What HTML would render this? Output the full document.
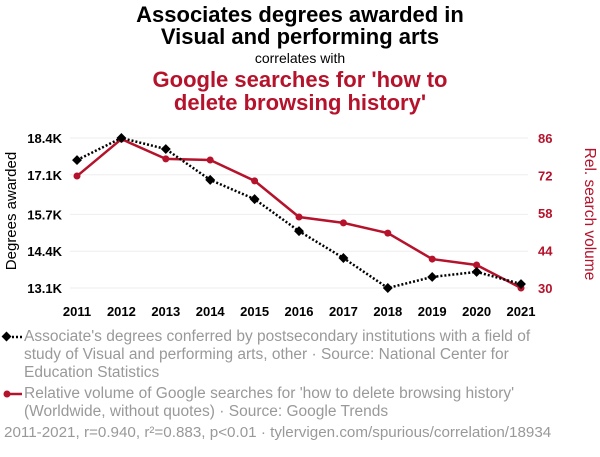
<!DOCTYPE html>
<html><head><meta charset="utf-8"><style>
body{margin:0;background:#fff;width:600px;height:452px;overflow:hidden;font-family:"Liberation Sans",sans-serif}
</style></head><body>
<svg width="600" height="452" font-family="Liberation Sans, sans-serif">
<g text-anchor="middle" font-weight="bold">
<text x="300" y="22" font-size="22">Associates degrees awarded in</text>
<text x="300" y="44" font-size="22">Visual and performing arts</text>
<text x="300" y="63" font-size="14" font-weight="normal">correlates with</text>
<text x="300" y="87" font-size="22" fill="#b5122b">Google searches for 'how to</text>
<text x="300" y="110" font-size="22" fill="#b5122b">delete browsing history'</text>
</g>
<g id="grid"></g><g id="axes"></g><g id="marks"></g>
<text transform="translate(16,211) rotate(-90)" text-anchor="middle" font-size="15">Degrees awarded</text>
<text transform="translate(585,214) rotate(90)" text-anchor="middle" font-size="15.5" fill="#b5122b">Rel. search volume</text>
<g>
<line x1="4" y1="337" x2="22" y2="337" stroke="#000" stroke-width="2.5" stroke-dasharray="2,2"/>
<rect x="3" y="333" width="7" height="7" transform="rotate(45 6.5 336.5)" fill="#000"/>
<text font-size="15.5" fill="#999"><tspan x="24" y="341">Associate's degrees conferred by postsecondary institutions with a field of</tspan><tspan x="24" y="359">study of Visual and performing arts, other · Source: National Center for</tspan><tspan x="24" y="377">Education Statistics</tspan></text>
</g>
<g>
<line x1="4" y1="394" x2="22" y2="394" stroke="#b5122b" stroke-width="2.5"/>
<circle cx="7" cy="394" r="3.5" fill="#b5122b"/>
<text font-size="15.5" fill="#999"><tspan x="24" y="398">Relative volume of Google searches for 'how to delete browsing history'</tspan><tspan x="24" y="416">(Worldwide, without quotes) · Source: Google Trends</tspan></text>
</g>
<text x="4" y="437" font-size="15.2" fill="#999">2011-2021, r=0.940, r²=0.883, p&lt;0.01 · tylervigen.com/spurious/correlation/18934</text>
</svg>
<script>
const years=[2011,2012,2013,2014,2015,2016,2017,2018,2019,2020,2021];
const degrees=[17.62,18.4,18.01,16.92,16.24,15.11,14.16,13.1,13.49,13.67,13.24];
const searches=[71.8,85.6,78.2,77.8,70,56.5,54.3,50.5,40.8,38.6,30];
const leftTicks=[13.1,14.4,15.7,17.1,18.4];
const rightTicks=[30,44,58,72,86];
const NS='http://www.w3.org/2000/svg';
const x=y=>77+(y-2011)*44.4;
const yl=v=>288-(v-13.1)/(18.4-13.1)*150;
const yr=v=>288-(v-30)/(86-30)*150;
function mk(p,t,a){const e=document.createElementNS(NS,t);for(const k in a)e.setAttribute(k,a[k]);document.getElementById(p).appendChild(e);return e;}
leftTicks.forEach((v,i)=>{
 const g=mk('grid','line',{x1:70,x2:528,y1:yl(v),y2:yl(v),stroke:'#eee'});
 
 
 const t=mk('axes','text',{x:62,y:yl(v)+5,'text-anchor':'end','font-size':13,'font-weight':'bold'});t.textContent=v.toFixed(1)+'K';
 
 
});
rightTicks.forEach(v=>{
 const t=mk('axes','text',{x:538,y:yr(v)+5,'font-size':13,'font-weight':'bold',fill:'#b5122b'});t.textContent=v;
 
 
});
years.forEach(yv=>{
 const t=mk('axes','text',{x:x(yv),y:316,'text-anchor':'middle','font-size':13,'font-weight':'bold'});t.textContent=yv;
 
 
});
const rl=mk('marks','polyline',{points:years.map((y,i)=>x(y)+','+yr(searches[i])).join(' '),fill:'none',stroke:'#b5122b','stroke-width':2.5});


const bl=mk('marks','polyline',{points:years.map((y,i)=>x(y)+','+yl(degrees[i])).join(' '),fill:'none',stroke:'#000','stroke-width':2.5,'stroke-dasharray':'2,2'});


years.forEach((y,i)=>{
 const c=mk('marks','circle',{cx:x(y),cy:yr(searches[i]),r:3.5,fill:'#b5122b'});
 
 
 const d=mk('marks','rect',{x:x(y)-3.5,y:yl(degrees[i])-3.5,width:7,height:7,fill:'#000',transform:`rotate(45 ${x(y)} ${yl(degrees[i])})`});
 
 
});
</script>
</body></html>
